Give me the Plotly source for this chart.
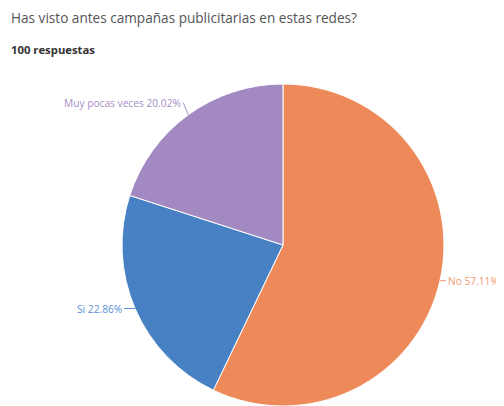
import math
import plotly.graph_objects as go

labels = ["No", "Si", "Muy pocas veces"]
values = [57.11, 22.86, 20.02]
slice_colors = ["#EE8A59", "#4881C3", "#A389C1"]
text_colors = ["#F09C72", "#5A91D4", "#A88EC8"]
title_text = "Has visto antes campañas publicitarias en estas redes?"
subtitle_text = "100 respuestas"

# page body has an 8px margin; keep the figure inside the 504x406 window
W, H = 496, 398
T = 76
dom_x = [0.2298, 0.879]

fig = go.Figure(go.Pie(
    labels=labels,
    values=values,
    sort=False,
    direction="clockwise",
    rotation=0,
    domain=dict(x=dom_x, y=[0, 1]),
    marker=dict(colors=slice_colors, line=dict(color="white", width=1)),
    textinfo="none",
    automargin=False,
    showlegend=False,
    hoverinfo="label+value",
))

# pie geometry in pixels (derived from domain)
plot_h = H - T
cx = (dom_x[0] + dom_x[1]) / 2 * W
cy = T + plot_h / 2
r = min((dom_x[1] - dom_x[0]) * W, plot_h) / 2

def to_paper(px, py):
    return px / W, (H - py) / plot_h

total = sum(values)
cum = 0
offsets = [(6, 0), (-11, 0), (-5, -12)]
for lab, val, col, (ax, ay) in zip(labels, values, text_colors, offsets):
    mid = (cum + val / 2) / total * 2 * math.pi
    cum += val
    px = cx + r * math.sin(mid)
    py = cy - r * math.cos(mid)
    x, y = to_paper(px, py)
    fig.add_annotation(
        x=x, y=y, xref="paper", yref="paper",
        text=f"{lab} {val:.2f}%",
        showarrow=True, arrowhead=0, arrowwidth=1, arrowcolor=col,
        ax=ax, ay=ay, standoff=0,
        xanchor="left" if math.sin(mid) > 0 else "right",
        yanchor="middle",
        font=dict(family="Open Sans", size=10.2, color=col),
    )

tx, ty = to_paper(1, 9)
fig.add_annotation(text=title_text, xref="paper", yref="paper", x=tx, y=ty,
                   xanchor="left", yanchor="middle", showarrow=False,
                   font=dict(family="Open Sans", size=13.6, color="#555555"))
sx, sy = to_paper(1, 42)
fig.add_annotation(text="<b>" + subtitle_text + "</b>", xref="paper", yref="paper", x=sx, y=sy,
                   xanchor="left", yanchor="middle", showarrow=False,
                   font=dict(family="Open Sans", size=11.3, color="#333333"))

fig.update_layout(
    width=W, height=H,
    margin=dict(l=0, r=0, t=T, b=0),
    paper_bgcolor="white",
    plot_bgcolor="white",
)

fig.write_html("out.html")
